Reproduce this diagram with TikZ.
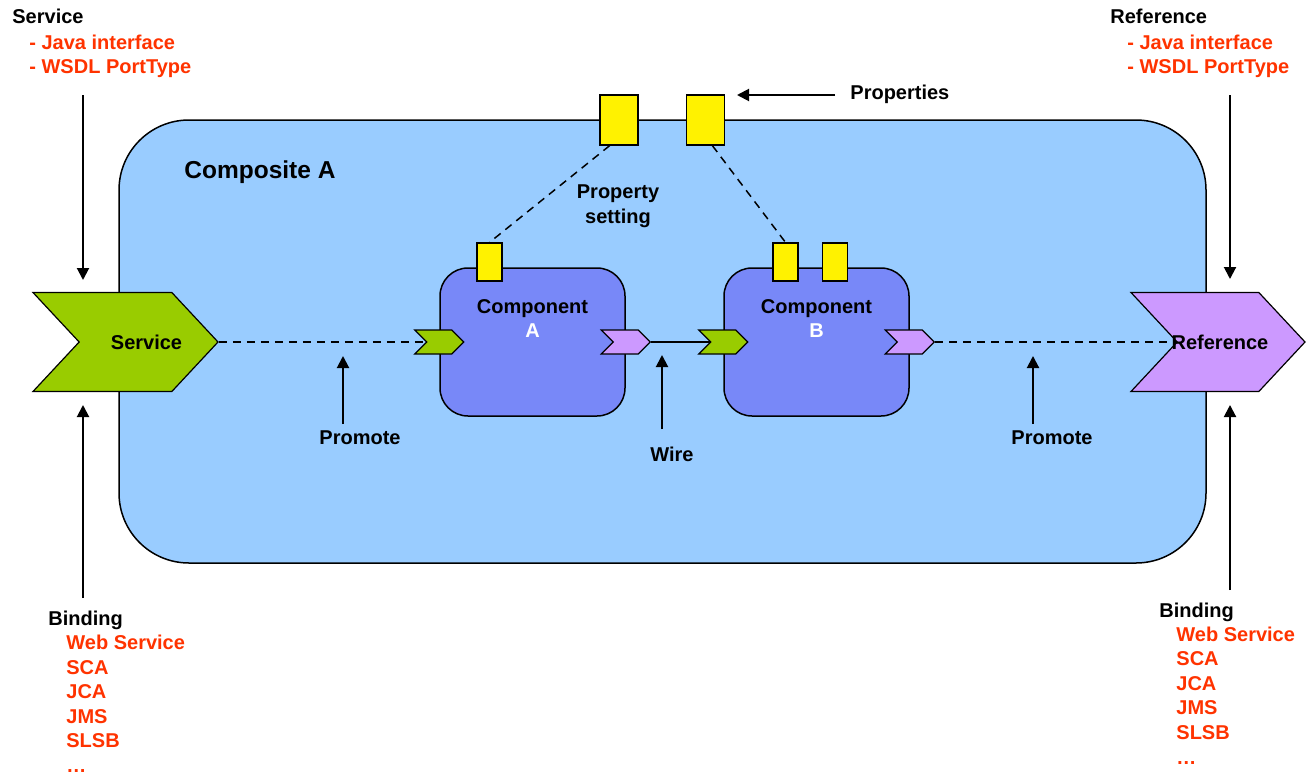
\documentclass[tikz,border=0pt]{standalone}
\usepackage{fontspec}
\setmainfont{Liberation Sans}
\usepackage{tikz}
\usetikzlibrary{shapes.symbols, arrows.meta, positioning}

\definecolor{compositeblue}{RGB}{153,204,255}
\definecolor{componentblue}{RGB}{120,136,248}
\definecolor{servicegreen}{RGB}{153,204,0}
\definecolor{refpurple}{RGB}{204,153,255}
\definecolor{bindred}{RGB}{255,51,0}

\begin{document}
\begin{tikzpicture}[x=0.5pt, y=-0.5pt,
	font=\fontsize{10}{12.25}\selectfont\bfseries,
	composite/.style={draw, line width=0.75pt, fill=compositeblue, rounded corners=35pt,
		minimum width=543.5pt, minimum height=221.5pt, inner sep=0pt},
	component/.style={draw, line width=0.75pt, fill=componentblue, rounded corners=14pt,
		minimum width=92.5pt, minimum height=74pt, inner sep=0pt},
	chevron/.style={draw, line width=0.6pt, shape=signal, signal from=west, signal to=east,
		signal pointer angle=94, inner sep=0pt, minimum width=92.5pt, minimum height=49.5pt},
	port/.style={chevron, signal pointer angle=90, minimum width=24.5pt, minimum height=12pt},
	propbox/.style={draw, line width=0.6pt, fill=yellow, inner sep=0pt,
		minimum width=19pt, minimum height=25pt},
	subprop/.style={propbox, minimum width=12.5pt, minimum height=19pt},
	complabel/.style={align=center, inner sep=0pt, anchor=north},
	caption/.style={anchor=base west, inner sep=0pt},
	redtext/.style={caption, text=bindred},
	pointer/.style={-{Triangle[width=6pt,length=6pt]}, line width=1pt},
	promoteline/.style={dash pattern=on 4pt off 3pt, line width=0.75pt}]
	\useasboundingbox (0,0) rectangle (1311,776);

	% composite and its components
	\node[composite] (compo) at (662.5,341.5) {};
	\node[caption, font=\fontsize{12.25}{14}\selectfont\bfseries] (compoName) at (184,178) {Composite A};
	\node[component] (compA) at (532.5,342) {};
	\node[component] (compB) at (816.5,342) {};
	\node[complabel, below=15.75pt of compA.north] (compAName) {Component\\\textcolor{white}{A}};
	\node[complabel, below=15.75pt of compB.north] (compBName) {Component\\\textcolor{white}{B}};

	% properties
	\node[propbox] (propL) at (619,120) {};
	\node[propbox] (propR) at (705.5,120) {};
	\node[subprop] (propA) at (489.5,262) {};
	\node[subprop] (propB1) at (785.5,262) {};
	\node[subprop] (propB2) at (835,262) {};
	\draw[promoteline] (propL.-110) -- (propA.north);
	\draw[promoteline] (propR.-75) -- (propB1.north);
	\node[align=center, inner sep=0pt] (propSet) at (618,206) {Property\\setting};

	% ports
	\node[port, fill=servicegreen] (aIn) at (compA.west) {};
	\node[port, fill=refpurple] (aOut) at (compA.east) {};
	\node[port, fill=servicegreen] (bIn) at (compB.west) {};
	\node[port, fill=refpurple] (bOut) at (compB.east) {};
	\draw[line width=0.75pt] (aOut.east) -- (bIn.west);

	% promoted service and reference
	\node[chevron, fill=servicegreen, label={[name=svcName, xshift=10.5pt]center:Service}] (svc) at (125.5,342) {};
	\node[chevron, fill=refpurple, minimum width=87pt, label={[name=refName, xshift=1pt]center:Reference}] (refc) at (1218,342) {};
	\draw[promoteline] (svc.east) -- (aIn.west);
	\draw[promoteline] (bOut.east) -- (refc.west);

	% callouts
	\coordinate (svcTop) at (83,95);
	\coordinate (svcTopTip) at (83,280);
	\coordinate (svcBot) at (83,598);
	\coordinate (svcBotTip) at (83,405);
	\coordinate (refTop) at (1230,95);
	\coordinate (refTopTip) at (1230,279);
	\coordinate (refBot) at (1230,590);
	\coordinate (refBotTip) at (1230,405);
	\coordinate (propTail) at (835,95);
	\coordinate (propTip) at (737,95);
	\coordinate (promLTail) at (343,424);
	\coordinate (promLTip) at (343,356);
	\coordinate (promRTail) at (1033,424);
	\coordinate (promRTip) at (1033,356);
	\coordinate (wireTail) at (662,429);
	\coordinate (wireTip) at (662,355);
	\draw[pointer] (svcTop) -- (svcTopTip);
	\draw[pointer] (svcBot) -- (svcBotTip);
	\draw[pointer] (refTop) -- (refTopTip);
	\draw[pointer] (refBot) -- (refBotTip);
	\draw[pointer] (propTail) -- (propTip);
	\draw[pointer] (promLTail) -- (promLTip);
	\draw[pointer] (promRTail) -- (promRTip);
	\draw[pointer] (wireTail) -- (wireTip);
	\node[caption] (propsName) at (850,99) {Properties};
	\node (promLName) at (360,438) {Promote};
	\node (promRName) at (1052,438) {Promote};
	\node (wireName) at (672,454) {Wire};

	% interface and binding lists
	\node[caption] (svcHead) at (12,24) {Service};
	\node[redtext] (svcIf1) at (29,49) {- Java interface};
	\node[redtext] (svcIf2) at (29,73.5) {- WSDL PortType};
	\node[caption] (refHead) at (1110,24) {Reference};
	\node[redtext] (refIf1) at (1127,49) {- Java interface};
	\node[redtext] (refIf2) at (1127,73.5) {- WSDL PortType};
	\node[caption] (bindL) at (48,625) {Binding};
	\node[caption] (bindR) at (1159,617) {Binding};
	\foreach \bind [count=\i] in {Web Service, SCA, JCA, JMS, SLSB, \ldots}{
		\node[redtext] (bindL\i) at (66,{624.9+24.6*\i}) {\bind};
		\node[redtext] (bindR\i) at (1176,{616.4+24.6*\i}) {\bind};
	}
\end{tikzpicture}
\end{document}
